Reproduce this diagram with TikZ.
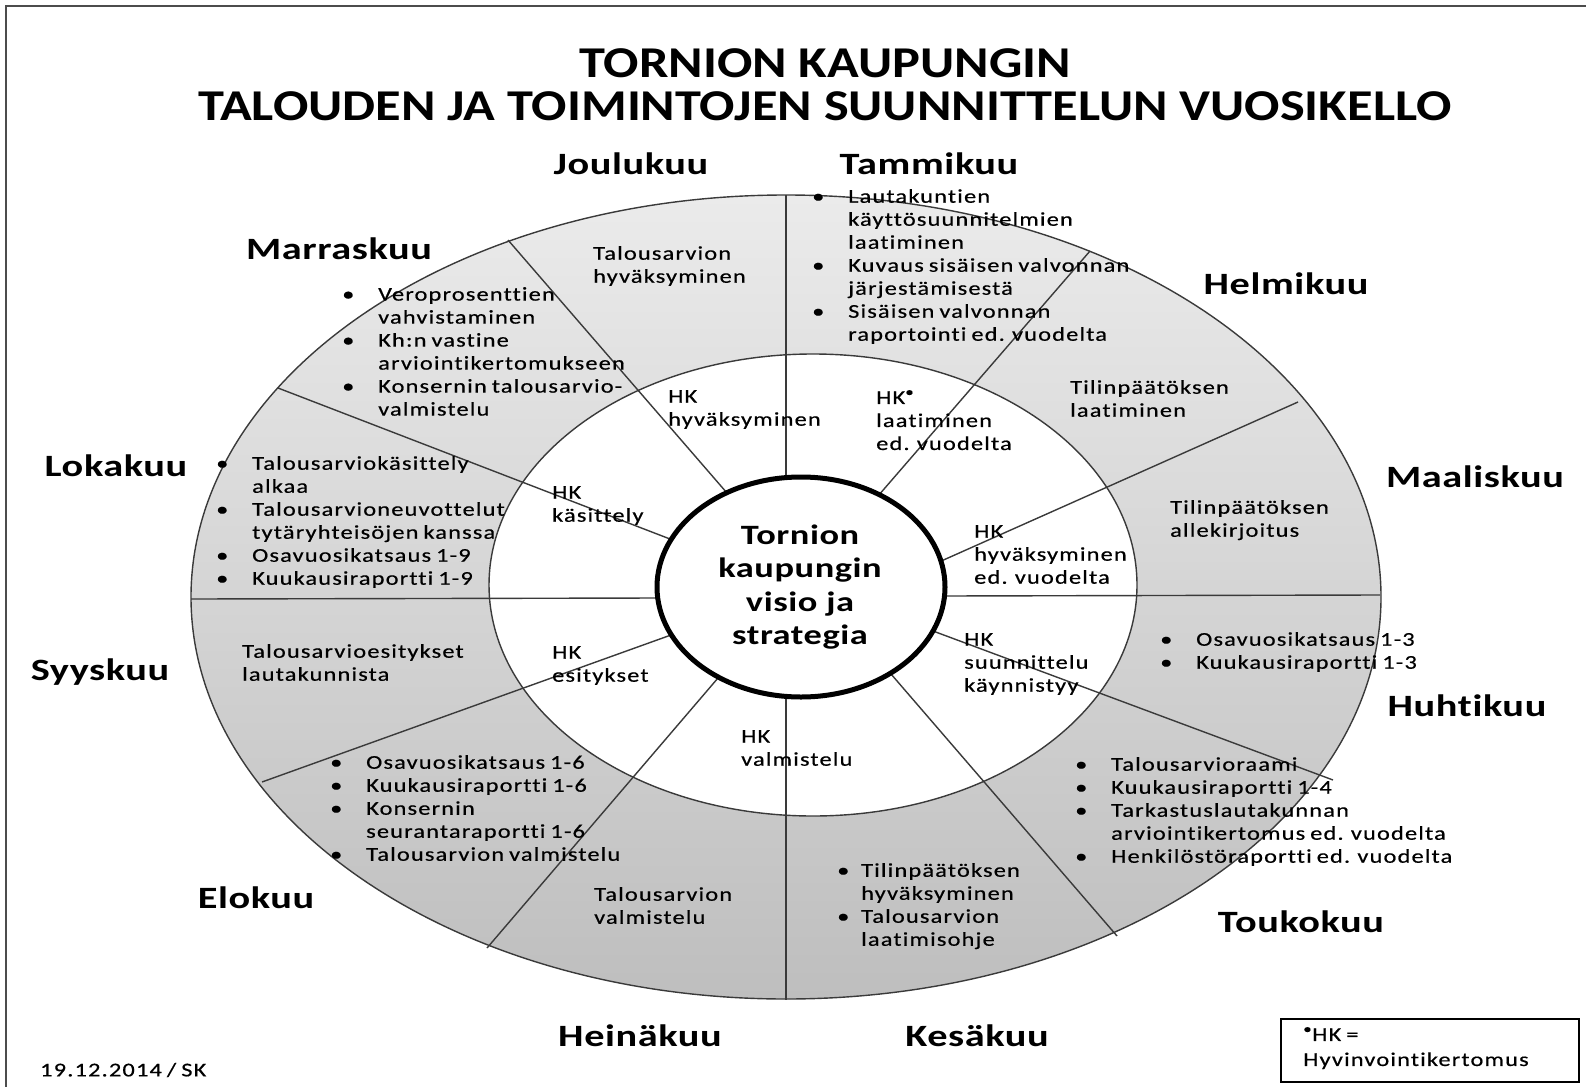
\documentclass[tikz,border=0pt]{standalone}
\usepackage{fontspec}
\setmainfont{Carlito}[FakeStretch=1.25,LetterSpace=6,FakeBold=0.5,WordSpace=0.75,Ligatures=NoCommon]
\newfontfamily\headfont{Carlito}[FakeStretch=1.3,LetterSpace=2,Ligatures=NoCommon]
\newfontfamily\titlefont{Carlito}[FakeStretch=1.19,Ligatures=NoCommon]
\newcommand\blt[1][36pt]{\makebox[#1][l]{\textbullet}}
\newcommand\ind[1][36pt]{\hspace*{#1}}
\definecolor{ringtop}{HTML}{EBEBEB}
\definecolor{ringbot}{HTML}{BEBEBE}
\definecolor{edge}{HTML}{3A3A3A}
\begin{document}
\begin{tikzpicture}[x=1pt,y=-1pt,
	month/.style={font=\headfont\bfseries\fontsize{31}{36}\selectfont},
	txt/.style={anchor=north west,inner sep=0pt,align=left,font=\fontsize{19.5}{23}\selectfont},
	spoke/.style={draw=edge,line width=1.4pt}]
	\useasboundingbox (0,0) rectangle (1586,1086);
	\draw[gray!60!black,line width=1.2pt] (1600,6) -- (6,6) -- (6,1100);

	% renkaat
	\shade[top color=ringtop,bottom color=ringbot] (786,597) ellipse [x radius=595,y radius=402];
	\fill[white] (813,585) ellipse [x radius=324,y radius=231];
	\draw[spoke] (786,597) ellipse [x radius=595,y radius=402];
	\draw[spoke] (813,585) ellipse [x radius=324,y radius=231];

	% kuukausien rajat
	\draw[spoke] (786,195) -- (786,482);
	\draw[spoke] (508,240) -- (727,493);
	\draw[spoke] (278,388) -- (670,539);
	\draw[spoke] (191,599) -- (660,598);
	\draw[spoke] (262,782) -- (671,635);
	\draw[spoke] (487,948) -- (718,678);
	\draw[spoke] (786,694) -- (786,1000);
	\draw[spoke] (891,674) -- (1117,936);
	\draw[spoke] (933,631) -- (1333,780);
	\draw[spoke] (942,596) -- (1380,595);
	\draw[spoke] (939,562) -- (1298,402);
	\draw[spoke] (878,496) -- (1090,251);

	\filldraw[fill=white,draw=black,line width=5pt] (801,587) ellipse [x radius=144,y radius=110];
	\node[font=\headfont\bfseries\fontsize{28}{33.5}\selectfont,align=center] (visio) at (800,587)
		{Tornion\\kaupungin\\visio ja\\strategia};

	\node[font=\titlefont\bfseries\fontsize{44}{43}\selectfont,align=center] (otsikko) at (825,85)
		{TORNION KAUPUNGIN\\TALOUDEN JA TOIMINTOJEN SUUNNITTELUN VUOSIKELLO};

	\node[month] (jou) at (631,164) {Joulukuu};
	\node[month] (tam) at (929,164) {Tammikuu};
	\node[month] (mar) at (339,249) {Marraskuu};
	\node[month] (hel) at (1286,284) {Helmikuu};
	\node[month] (lok) at (116,466) {Lokakuu};
	\node[month] (maa) at (1475,477) {Maaliskuu};
	\node[month] (syy) at (100,672) {Syyskuu};
	\node[month] (huh) at (1467,706) {Huhtikuu};
	\node[month] (elo) at (256,898) {Elokuu};
	\node[month] (tou) at (1301,922) {Toukokuu};
	\node[month] (hei) at (640,1036) {Heinäkuu};
	\node[month] (kes) at (977,1036) {Kesäkuu};

	% ulkokehä
	\node[txt] (joutxt) at (593,246) {Talousarvion\\hyväksyminen};
	\node[txt] (tamtxt) at (812,189) {\blt Lautakuntien\\ \ind käyttösuunnitelmien\\ \ind laatiminen\\
		\blt Kuvaus sisäisen valvonnan\\ \ind järjestämisestä\\ \blt Sisäisen valvonnan\\ \ind raportointi ed. vuodelta};
	\node[txt] (martxt) at (342,287) {\blt Veroprosenttien\\ \ind vahvistaminen\\ \blt Kh:n vastine\\
		\ind arviointikertomukseen\\ \blt Konsernin talousarvio-\\ \ind valmistelu};
	\node[txt] (heltxt) at (1070,380) {Tilinpäätöksen\\laatiminen};
	\node[txt] (loktxt) at (216,456) {\blt Talousarviokäsittely\\ \ind alkaa\\ \blt Talousarvioneuvottelut\\
		\ind tytäryhteisöjen kanssa\\ \blt Osavuosikatsaus 1-9\\ \blt Kuukausiraportti 1-9};
	\node[txt] (maatxt) at (1170,500) {Tilinpäätöksen\\allekirjoitus};
	\node[txt] (syytxt) at (242,644) {Talousarvioesitykset\\lautakunnista};
	\node[txt] (huhtxt) at (1160,632) {\blt Osavuosikatsaus 1-3\\ \blt Kuukausiraportti 1-3};
	\node[txt] (elotxt) at (330,755) {\blt Osavuosikatsaus 1-6\\ \blt Kuukausiraportti 1-6\\ \blt Konsernin\\
		\ind seurantaraportti 1-6\\ \blt Talousarvion valmistelu};
	\node[txt] (heitxt) at (594,887) {Talousarvion\\valmistelu};
	\node[txt] (kestxt) at (837,863) {\blt[24pt]Tilinpäätöksen\\ \ind[24pt]hyväksyminen\\
		\blt[24pt]Talousarvion\\ \ind[24pt]laatimisohje};
	\node[txt] (toutxt) at (1075,757) {\blt Talousarvioraami\\ \blt Kuukausiraportti 1-4\\ \blt Tarkastuslautakunnan\\
		\ind arviointikertomus ed. vuodelta\\ \blt Henkilöstöraportti ed. vuodelta};

	% sisäkehä
	\node[txt] (hk1) at (668,390) {HK\\hyväksyminen};
	\node[txt] (hk2) at (876,390) {HK\textsuperscript{\textbullet}\\laatiminen\\ed. vuodelta};
	\node[txt] (hk3) at (552,486) {HK\\käsittely};
	\node[txt] (hk4) at (974,525) {HK\\hyväksyminen\\ed. vuodelta};
	\node[txt] (hk5) at (552,646) {HK\\esitykset};
	\node[txt] (hk6) at (964,633) {HK\\suunnittelu\\käynnistyy};
	\node[txt] (hk7) at (741,730) {HK\\valmistelu};

	\draw[line width=1.3pt] (1281,1019) rectangle (1579,1082);
	\node[txt,font=\fontsize{19.5}{25}\selectfont] (selite) at (1303,1027) {\textsuperscript{\textbullet}HK =\\Hyvinvointikertomus};
	\node[txt,anchor=west] (pvm) at (40,1070) {19.12.2014 / SK};
\end{tikzpicture}
\end{document}
